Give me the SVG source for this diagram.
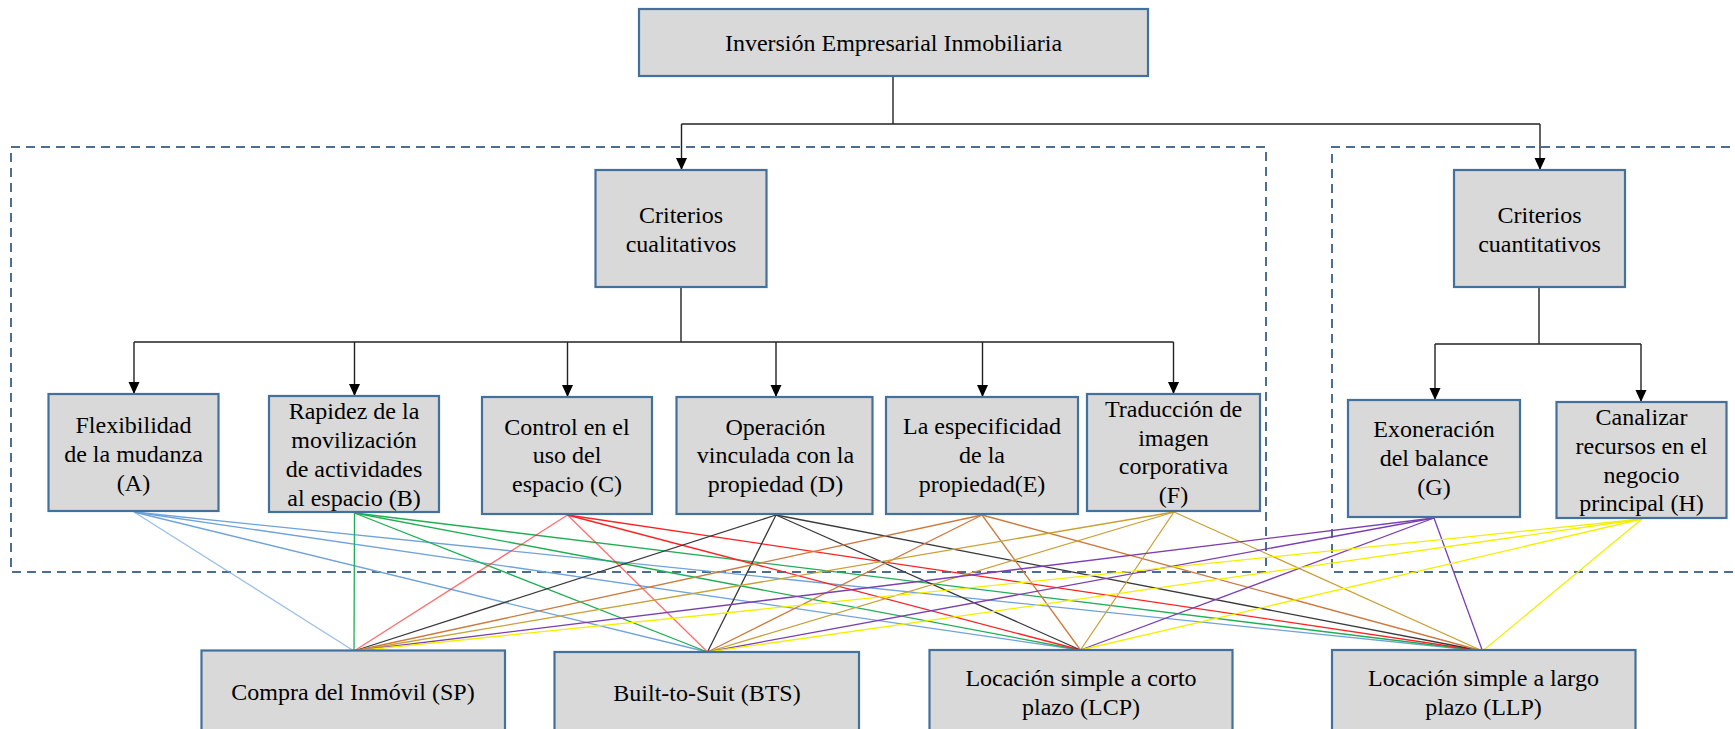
<svg xmlns="http://www.w3.org/2000/svg" width="1735" height="729" viewBox="0 0 1735 729">
<defs>
<style>
.box{fill:#d9d9d9;stroke:#41719c;stroke-width:2.2}
.t{font-family:"Liberation Serif","Times New Roman",serif;font-size:24px;fill:#000;text-anchor:middle}
.tree{fill:none;stroke:#222;stroke-width:1.4}
.dash{fill:none;stroke:#4d6e94;stroke-width:2;stroke-dasharray:9,6}
.c line{stroke-width:1.3}
.a line{stroke:#6fa3da}
.b line{stroke:#1fae55}
.cc line{stroke:#f22}
.d line{stroke:#3a3a3a}
.e line{stroke:#cc7a3e}
.f line{stroke:#c9a035}
.g line{stroke:#7b3fb0}
.h line{stroke:#f2ef00}
</style>
<marker id="arr" markerUnits="userSpaceOnUse" markerWidth="12" markerHeight="12" viewBox="0 0 12 12" refX="12" refY="6" orient="auto">
<path d="M0,0.5 L12,6 L0,11.5 Z" fill="#000"/>
</marker>
</defs>
<rect width="1735" height="729" fill="#fff"/>

<g id="groups">
<rect class="dash" x="11" y="147" width="1255" height="425"/>
<path class="dash" d="M1745,147 H1332 V572 H1745"/>
</g>

<g id="connectors">
<g class="tree">
<path d="M893,76 V124"/>
<path d="M681.5,124 H1540"/>
<path d="M681.5,124 V170" marker-end="url(#arr)"/>
<path d="M1540,124 V170" marker-end="url(#arr)"/>
<path d="M681,287 V342"/>
<path d="M134,342 H1173.5"/>
<path d="M134,342 V394" marker-end="url(#arr)"/>
<path d="M354.5,342 V396" marker-end="url(#arr)"/>
<path d="M567.5,342 V397" marker-end="url(#arr)"/>
<path d="M776,342 V397" marker-end="url(#arr)"/>
<path d="M982.5,342 V397" marker-end="url(#arr)"/>
<path d="M1173.5,342 V394" marker-end="url(#arr)"/>
<path d="M1539,287 V344"/>
<path d="M1435,344 H1641"/>
<path d="M1435,344 V400" marker-end="url(#arr)"/>
<path d="M1641,344 V402" marker-end="url(#arr)"/>
</g>
<g class="c a">
<line x1="134" y1="512" x2="354" y2="651" stroke-opacity="0.7"/>
<line x1="134" y1="512" x2="707.5" y2="652"/>
<line x1="134" y1="512" x2="1080.5" y2="650"/>
<line x1="134" y1="512" x2="1482.5" y2="651"/>
</g>
<g class="c b">
<line x1="354.5" y1="513" x2="354" y2="651"/>
<line x1="354.5" y1="513" x2="707.5" y2="652"/>
<line x1="354.5" y1="513" x2="1080.5" y2="650"/>
<line x1="354.5" y1="513" x2="1482.5" y2="651"/>
</g>
<g class="c cc">
<line x1="567.5" y1="515" x2="354" y2="651" stroke-opacity="0.65"/>
<line x1="567.5" y1="515" x2="707.5" y2="652" stroke-opacity="0.65"/>
<line x1="567.5" y1="515" x2="1080.5" y2="650"/>
<line x1="567.5" y1="515" x2="1482.5" y2="651"/>
</g>
<g class="c d">
<line x1="776" y1="515" x2="354" y2="651"/>
<line x1="776" y1="515" x2="707.5" y2="652"/>
<line x1="776" y1="515" x2="1080.5" y2="650"/>
<line x1="776" y1="515" x2="1482.5" y2="651"/>
</g>
<g class="c e">
<line x1="982" y1="515" x2="354" y2="651"/>
<line x1="982" y1="515" x2="707.5" y2="652"/>
<line x1="982" y1="515" x2="1080.5" y2="650"/>
<line x1="982" y1="515" x2="1482.5" y2="651"/>
</g>
<g class="c f">
<line x1="1174" y1="512" x2="354" y2="651"/>
<line x1="1174" y1="512" x2="707.5" y2="652"/>
<line x1="1174" y1="512" x2="1080.5" y2="650"/>
<line x1="1174" y1="512" x2="1482.5" y2="651"/>
</g>
<g class="c g">
<line x1="1434" y1="518" x2="354" y2="651"/>
<line x1="1434" y1="518" x2="707.5" y2="652"/>
<line x1="1434" y1="518" x2="1080.5" y2="650"/>
<line x1="1434" y1="518" x2="1482.5" y2="651"/>
</g>
<g class="c h">
<line x1="1642" y1="519" x2="354" y2="651"/>
<line x1="1642" y1="519" x2="707.5" y2="652"/>
<line x1="1642" y1="519" x2="1080.5" y2="650"/>
<line x1="1642" y1="519" x2="1482.5" y2="651"/>
</g>
</g>

<g id="root"><rect class="box" x="639" y="9" width="509" height="67"/><text class="t" x="893.5" y="51">Inversión Empresarial Inmobiliaria</text></g>
<g id="cualitativos"><rect class="box" x="595.5" y="170" width="171" height="117"/><text class="t" x="681" y="223">Criterios</text><text class="t" x="681" y="252">cualitativos</text></g>
<g id="cuantitativos"><rect class="box" x="1454" y="170" width="171" height="117"/><text class="t" x="1539.5" y="223">Criterios</text><text class="t" x="1539.5" y="252">cuantitativos</text></g>

<g id="A"><rect class="box" x="48.5" y="394" width="170" height="117"/><text class="t" x="133.5" y="433">Flexibilidad</text><text class="t" x="133.5" y="462">de la mudanza</text><text class="t" x="133.5" y="491">(A)</text></g>
<g id="B"><rect class="box" x="269" y="396" width="170" height="116"/><text class="t" x="354" y="419">Rapidez de la</text><text class="t" x="354" y="448">movilización</text><text class="t" x="354" y="477">de actividades</text><text class="t" x="354" y="506">al espacio (B)</text></g>
<g id="C"><rect class="box" x="482" y="397" width="170" height="117"/><text class="t" x="567" y="435">Control en el</text><text class="t" x="567" y="463">uso del</text><text class="t" x="567" y="492">espacio (C)</text></g>
<g id="D"><rect class="box" x="676.5" y="397" width="196" height="117"/><text class="t" x="775.5" y="435">Operación</text><text class="t" x="775.5" y="463">vinculada con la</text><text class="t" x="775.5" y="492">propiedad (D)</text></g>
<g id="E"><rect class="box" x="886" y="397" width="192" height="117"/><text class="t" x="982" y="434">La especificidad</text><text class="t" x="982" y="463">de la</text><text class="t" x="982" y="492">propiedad(E)</text></g>
<g id="F"><rect class="box" x="1087" y="394" width="173" height="117"/><text class="t" x="1173.5" y="417">Traducción de</text><text class="t" x="1173.5" y="446">imagen</text><text class="t" x="1173.5" y="474">corporativa</text><text class="t" x="1173.5" y="503">(F)</text></g>
<g id="G"><rect class="box" x="1348" y="400" width="172" height="117"/><text class="t" x="1434" y="437">Exoneración</text><text class="t" x="1434" y="466">del balance</text><text class="t" x="1434" y="495">(G)</text></g>
<g id="H"><rect class="box" x="1556.5" y="402" width="170" height="116"/><text class="t" x="1641.5" y="425">Canalizar</text><text class="t" x="1641.5" y="454">recursos en el</text><text class="t" x="1641.5" y="483">negocio</text><text class="t" x="1641.5" y="511">principal (H)</text></g>

<g id="SP"><rect class="box" x="201.5" y="650.5" width="303.5" height="95"/><text class="t" x="353" y="700">Compra del Inmóvil (SP)</text></g>
<g id="BTS"><rect class="box" x="554.5" y="652" width="304.5" height="95"/><text class="t" x="707" y="701">Built-to-Suit (BTS)</text></g>
<g id="LCP"><rect class="box" x="929.5" y="650" width="303" height="95"/><text class="t" x="1081" y="686">Locación simple a corto</text><text class="t" x="1081" y="715">plazo (LCP)</text></g>
<g id="LLP"><rect class="box" x="1332" y="650" width="303.5" height="95"/><text class="t" x="1483.5" y="686">Locación simple a largo</text><text class="t" x="1483.5" y="715">plazo (LLP)</text></g>
</svg>
